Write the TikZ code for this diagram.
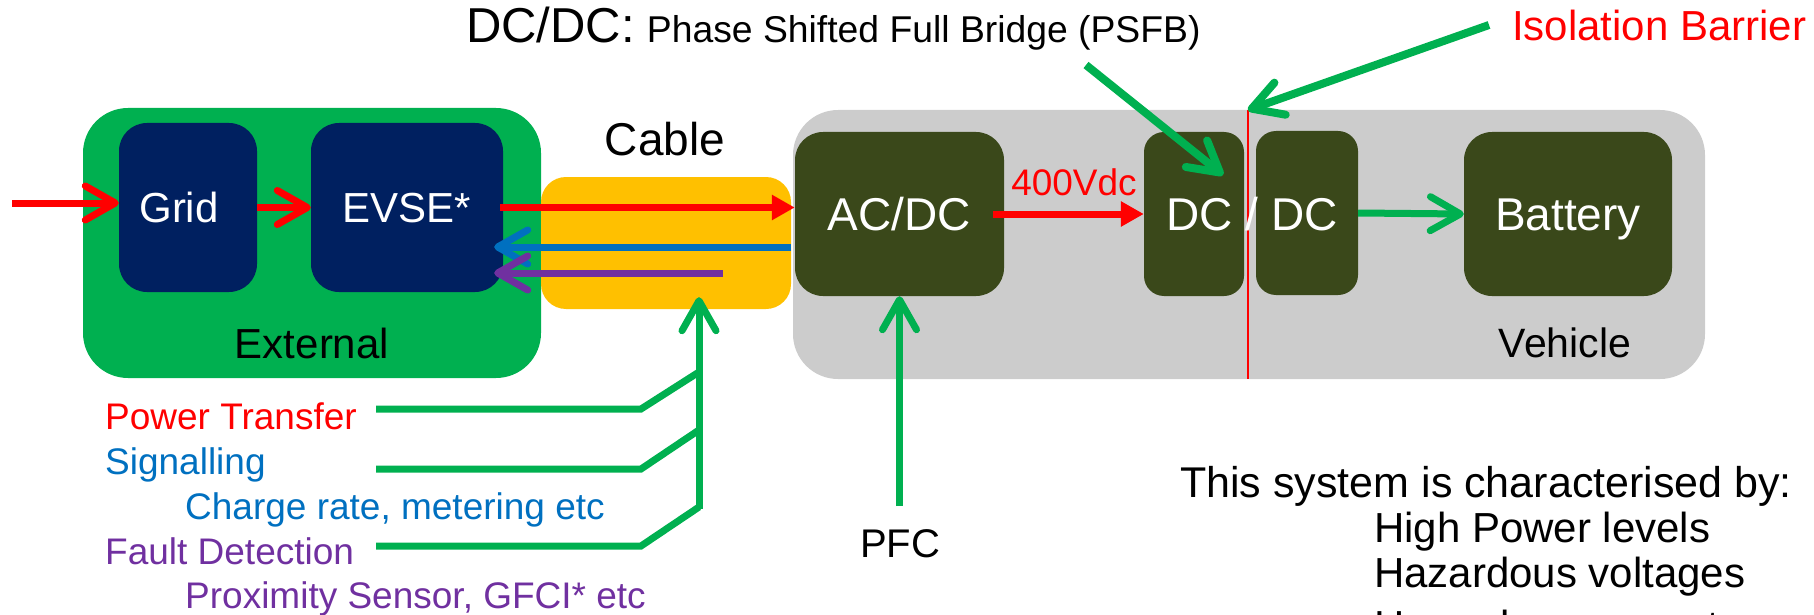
\documentclass[tikz,border=0pt]{standalone}
\usepackage{fontspec}
\setmainfont{Liberation Sans}
\usetikzlibrary{arrows.meta}
\definecolor{pgreen}{RGB}{0,176,80}
\definecolor{pnavy}{RGB}{0,32,96}
\definecolor{polive}{RGB}{58,72,26}
\definecolor{pgray}{RGB}{204,204,204}
\definecolor{pyellow}{RGB}{255,192,0}
\definecolor{pblue}{RGB}{0,112,192}
\definecolor{ppurple}{RGB}{112,48,160}
\definecolor{pred}{RGB}{255,0,0}
\newcommand\myfs[1]{\fontsize{#1}{#1}\selectfont}
\tikzset{
  area/.style={draw=none, inner sep=0pt, rounded corners=45pt},
  navybox/.style={fill=pnavy, inner sep=0pt, rounded corners=28pt, text=white, font=\myfs{42}, text height=30pt, text depth=0pt},
  olivebox/.style={fill=polive, inner sep=0pt, rounded corners=28pt, text=white, font=\myfs{46}, text height=33pt, text depth=0pt},
  dcbox/.style={fill=polive, inner sep=0pt, rounded corners=20pt},
  txt/.style={inner sep=0pt, anchor=base},
  txtw/.style={inner sep=0pt, anchor=base west},
  chev/.style={-{Straight Barb[length=30pt,width=34pt,round]}, line width=7pt},
  tri/.style={-{Triangle[length=23pt,width=24pt]}, line width=7pt},
  gline/.style={pgreen, line width=7pt, line join=miter},
}
\begin{document}
\begin{tikzpicture}[x=1pt,y=-1pt]
\useasboundingbox (0,0) rectangle (1814,615);
\clip (0,0) rectangle (1814,615);

% areas
\node[area, fill=pgreen, minimum width=458pt, minimum height=270pt] (ext) at (312,243) {};
\node[area, fill=pgray, minimum width=912pt, minimum height=269pt] (veh) at (1249,244.5) {};
\node[area, fill=pyellow, rounded corners=25pt, minimum width=250pt, minimum height=132pt] (cable) at (666,243) {};

% boxes
\node[navybox, minimum width=138pt, minimum height=169pt] (grid) at (188,207.5) {Grid\hspace*{18pt}};
\node[navybox, minimum width=192pt, minimum height=169pt] (evse) at (407,207.5) {EVSE*};
\node[olivebox, minimum width=209pt, minimum height=164pt] (acdc) at (899.5,214) {AC/DC};
\node[dcbox, minimum width=100pt, minimum height=164pt] (dcl) at (1194,214) {};
\node[dcbox, minimum width=102pt, minimum height=164pt] (dcr) at (1307,213) {};
\node[olivebox, minimum width=208pt, minimum height=164pt] (batt) at (1568,214) {Battery};

% isolation barrier
\coordinate (bt) at (1248,110);
\coordinate (bb) at (1248,379);
\draw[pred, line width=2pt] (bt) -- (bb);

% area labels
\node[txt, font=\myfs{46}] (cableT) at (665,155) {Cable};
\node[txt, font=\myfs{42}] (extT) at (312,358) {External};
\node[txt, font=\myfs{41}] (vehT) at (1565,357) {Vehicle};
\node[txt, font=\myfs{46}, text=white] (dcT) at (1252,230) {DC / DC};
\node[txt, font=\myfs{37}, text=pred] (vdcT) at (1074,195) {400Vdc};

% power / signal arrows
\coordinate (gin) at (12,203);
\draw[chev, pred] (gin) -- (gin -| grid.west);
\draw[chev, pred] (grid.east) -- (evse.west);
\draw[tri, pred, shorten <=-3pt] (evse.east) -- (evse.east -| acdc.west);
\coordinate (bl) at (791,247);
\draw[chev, pblue, shorten >=-9pt] (bl) -- (bl -| evse.east);
\coordinate (pu) at (723,273);
\draw[chev, ppurple, shorten >=-9pt] (pu) -- (pu -| evse.east);
\draw[tri, pred, shorten <=-11pt] (acdc.east) -- (dcl.west);
\draw[chev, pgreen] (dcr.east) -- (batt.west);

% top labels
\node[txtw] (dcdcT) at (466,43) {{\myfs{49}DC/DC:}\hspace{12pt}{\myfs{37.3}Phase Shifted Full Bridge (PSFB)}};
\node[txtw, font=\myfs{42}, text=pred] (isoT) at (1512,41) {Isolation Barrier};
\coordinate (psfbS) at (1086,65);
\coordinate (psfbE) at (1223,175);
\draw[chev, pgreen, line width=8pt] (psfbS) -- (psfbE);
\coordinate (isoS) at (1489,25);
\draw[chev, pgreen, line width=8pt] (isoS) -- (bt);

% PFC
\node[txt, font=\myfs{40}] (pfc) at (900,557) {PFC};
\coordinate (pfcS) at (899.5,506);
\draw[chev, pgreen] (pfcS) -- (acdc.south);

% left labels
\node[txtw, font=\myfs{37}, text=pred] (ptT) at (105,429) {Power Transfer};
\node[txtw, font=\myfs{37}, text=pblue] (sigT) at (105,474) {Signalling};
\node[txtw, font=\myfs{37}, text=pblue] (crT) at (185,519) {Charge rate, metering etc};
\node[txtw, font=\myfs{37}, text=ppurple] (fdT) at (105,564) {Fault Detection};
\node[txtw, font=\myfs{37}, text=ppurple] (prT) at (185,608) {Proximity Sensor, GFCI* etc};

\coordinate (vb) at (699,509);
\draw[chev, pgreen, shorten >=-12pt] (vb) -- (vb |- cable.south);
\coordinate (a1) at (376,409); \coordinate (b1) at (641,409); \coordinate (c1) at (699,372);
\coordinate (a2) at (376,469); \coordinate (b2) at (641,469); \coordinate (c2) at (699,430);
\coordinate (a3) at (376,546); \coordinate (b3) at (641,546); \coordinate (c3) at (699,507);
\draw[gline] (a1) -- (b1) -- (c1);
\draw[gline] (a2) -- (b2) -- (c2);
\draw[gline] (a3) -- (b3) -- (c3);

% characteristics
\node[txtw, font=\myfs{43}] (sysT) at (1180,497) {This system is characterised by:};
\node[txtw, font=\myfs{42}] (hpT) at (1374,542) {High Power levels};
\node[txtw, font=\myfs{42}] (hvT) at (1374,587) {Hazardous voltages};
\node[txtw, font=\myfs{42}] (hcT) at (1374,640) {Hazardous currents};
\end{tikzpicture}
\end{document}
